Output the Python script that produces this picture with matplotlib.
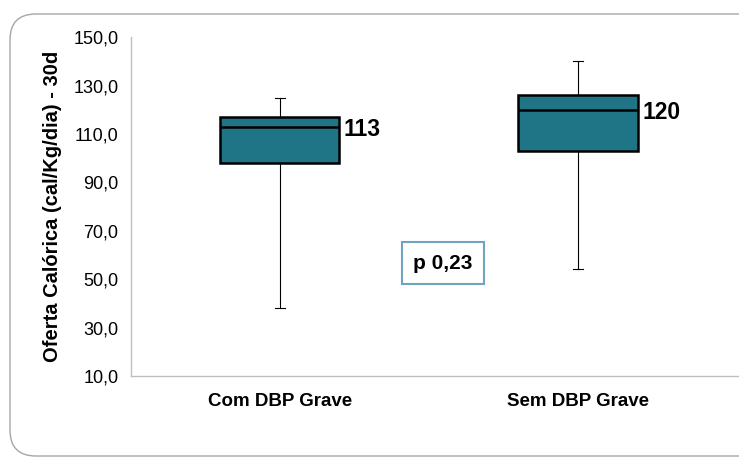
import matplotlib
matplotlib.use("Agg")
import matplotlib.pyplot as plt
from matplotlib.patches import FancyBboxPatch

# group names and box statistics (cal/Kg/dia)
groups = ["Com DBP Grave", "Sem DBP Grave"]
whisker_low = [38, 54]
q1 = [98, 103]
median = [113, 120]
q3 = [117, 126]
whisker_high = [125, 140]
median_labels = ["113", "120"]
p_text = "p 0,23"

yticks = [10, 30, 50, 70, 90, 110, 130, 150]

plt.rcParams["font.family"] = ["Liberation Sans", "DejaVu Sans"]

fig = plt.figure(figsize=(7.39, 4.59), dpi=100)
ax = fig.add_axes([0.177, 0.181, 0.823, 0.738])

# rounded frame around the chart
frame = FancyBboxPatch((10 / 739, 3 / 459), 760 / 739, 442 / 459,
                       boxstyle="round,pad=0,rounding_size=0.035",
                       transform=fig.transFigure, facecolor="none",
                       edgecolor="#a6a6a6", linewidth=1.0, zorder=0,
                       mutation_aspect=739 / 459)
fig.patches.append(frame)

stats = []
for i, g in enumerate(groups):
    stats.append({"label": g, "whislo": whisker_low[i], "q1": q1[i],
                  "med": median[i], "q3": q3[i], "whishi": whisker_high[i],
                  "fliers": []})

pos = [1, 2]
ax.bxp(stats, positions=pos, widths=0.4, patch_artist=True, showfliers=False,
       capwidths=0.035,
       boxprops=dict(facecolor="#1f7585", edgecolor="black", linewidth=1.8),
       medianprops=dict(color="black", linewidth=1.8),
       whiskerprops=dict(color="black", linewidth=0.8),
       capprops=dict(color="black", linewidth=0.8))

for x, m, lab in zip(pos, median, median_labels):
    ax.text(x + 0.215, m - 1.2, lab, ha="left", va="center", fontsize=16.5,
            fontweight="bold")

ax.text(1.547, 56.5, p_text, ha="center", va="center", fontsize=15,
        fontweight="bold",
        bbox=dict(boxstyle="square,pad=0.55", facecolor="white",
                  edgecolor="#6fa3c0", linewidth=1.5))

ax.set_xlim(0.5, 2.54)
ax.set_ylim(10, 150)
ax.set_yticks(yticks)
ax.set_yticklabels([f"{v},0" for v in yticks], fontsize=13)
ax.set_xticks(pos)
ax.set_xticklabels(groups, fontsize=13.5, fontweight="bold")
ax.tick_params(axis="y", length=0, pad=9)
ax.tick_params(axis="x", length=0, pad=12)

for s in ["top", "right"]:
    ax.spines[s].set_visible(False)
for s in ["left", "bottom"]:
    ax.spines[s].set_color("#bfbfbf")
    ax.spines[s].set_linewidth(1.0)

ax.set_ylabel("Oferta Calórica (cal/Kg/dia) - 30d", fontsize=14.5,
              fontweight="bold", labelpad=8)

fig.savefig("out.png", dpi=100)
